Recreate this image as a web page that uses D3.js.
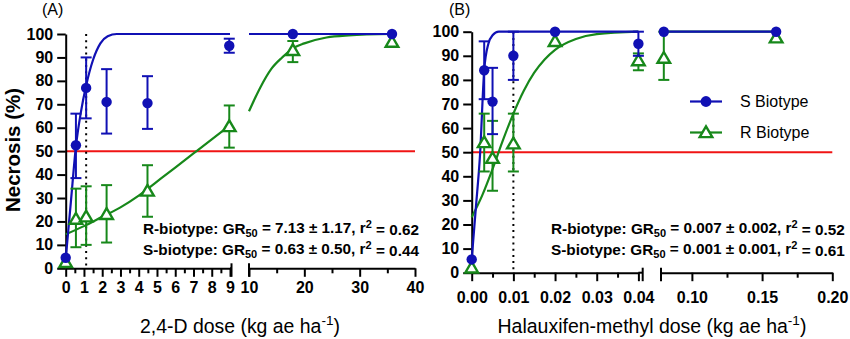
<!DOCTYPE html>
<html><head><meta charset="utf-8">
<script src="https://cdn.jsdelivr.net/npm/d3@7"></script>
<style>body{margin:0;background:#fff}svg{display:block;font-family:"Liberation Sans",Arial,sans-serif}</style>
</head><body><svg id="c" width="850" height="339"></svg>
<script>
// ---------- data ----------
const dosesA = [0, 0.56, 1.12, 2.24, 4.48, 8.96, 17.92, 35.84];
const sMeanA = [4.5, 52.5, 77, 71, 70.5, 95, 100, 100];
const sLoA   = [4.5, 38.5, 64, 57.5, 59.5, 92, 100, 100];
const sHiA   = [4.5, 66, 90, 85, 82, 98, 100, 100];
const rMeanA = [2.5, 21, 22, 23, 33, 60.5, 93, 96.5];
const rLoA   = [2.5, 9, 10, 11, 22, 51.5, 88, 96.5];
const rHiA   = [2.5, 34, 35, 35.5, 44, 69.5, 97, 96.5];

const dosesB = [0, 0.003, 0.005, 0.01, 0.02, 0.04, 0.08, 0.16];
const sMeanB = [5.5, 84, 71, 90, 100, 95, 100, 100];
const sLoB   = [5.5, 72, 57.5, 80, 100, 90, 100, 100];
const sHiB   = [5.5, 96, 85, 100, 100, 100, 100, 100];
const rMeanB = [2, 54, 47.5, 53.5, 96, 88, 89, 97.5];
const rLoB   = [2, 42, 34, 42, 96, 84, 80, 97.5];
const rHiB   = [2, 66, 63, 66, 96, 91, 100, 97.5];

// fitted curves (left / right axis segments)
const sCurveA1x = [0, 0.28, 0.56, 0.84, 1.12, 1.5, 1.9, 2.3, 2.8, 9];
const sCurveA1y = [4, 28, 52, 67, 78, 89, 96, 99, 100, 100];
const sCurveA2x = [10, 35.84];
const sCurveA2y = [100, 100];
const rCurveA1x = [0, 1, 2, 3, 4, 5, 6, 7, 8, 9];
const rCurveA1y = [14.5, 18, 22, 26, 31, 37, 43, 49, 55, 61];
const rCurveA2x = [10, 12, 14, 16, 18, 20, 24, 28, 35.84];
const rCurveA2y = [67, 77, 85, 90, 94, 96, 98.5, 99.4, 100];

const sCurveB1x = [0, 0.001, 0.002, 0.003, 0.004, 0.005, 0.0065, 0.04];
const sCurveB1y = [5.5, 27, 49, 84, 95, 98.5, 100, 100];
const sCurveB2x = [0.08, 0.16];
const sCurveB2y = [100, 100];
const rCurveB1x = [0, 0.0025, 0.005, 0.0075, 0.01, 0.0125, 0.015, 0.0175, 0.02, 0.025, 0.03, 0.04];
const rCurveB1y = [23, 32, 43, 55, 66, 75.5, 83, 88.5, 92.5, 97, 99, 100];
const rCurveB2x = [0.08, 0.16];
const rCurveB2y = [100, 100];

const yTicks = [0,10,20,30,40,50,60,70,80,90,100];
const xTicksA1 = [0,1,2,3,4,5,6,7,8,9];
const xMinorA1 = [0.5,1.5,2.5,3.5,4.5,5.5,6.5,7.5,8.5];
const xTicksA2 = [10,20,30,40];
const xMinorA2 = [15,25,35];
const xTicksB1 = [0,0.01,0.02,0.03,0.04];
const xMinorB1 = [0.005,0.015,0.025,0.035];
const xTicksB2 = [0.10,0.15,0.20];
const xMinorB2 = [0.125,0.175];

const gr50A = {R:["7.13","1.17","0.62"], S:["0.63","0.50","0.44"]};
const gr50B = {R:["0.007","0.002","0.52"], S:["0.001","0.001","0.61"]};
const refDoseA = 1.12, refDoseB = 0.01;
const legendLabels = ["S Biotype","R Biotype"];

// ---------- drawing ----------
const BLUE = "#1010b4", GREEN = "#17881a", RED = "#f01414";
const svg = d3.select("#c");
const zip = (xs, ys) => xs.map((x,i)=>[x, ys[i]]);
const triPath = "M0,-6.2 L6.3,4.6 L-6.3,4.6 Z";

function fitText(sel, target){
  const fs = parseFloat(sel.attr("font-size"));
  const len = sel.node().getComputedTextLength();
  sel.attr("font-size", (fs*target/len).toFixed(2));
}

function panel(o){
  const g = svg.append("g");
  const y = o.y;
  const X = v => v <= o.split ? o.x1(v) : o.x2(v);
  const y0 = y(0);

  g.append("line").attr("x1", o.x1(o.x1.domain()[0])).attr("x2", o.redEnd)
    .attr("y1", y(50)).attr("y2", y(50)).attr("stroke", RED).attr("stroke-width", 2);
  g.append("line").attr("x1", X(o.refDose)).attr("x2", X(o.refDose))
    .attr("y1", y(100)).attr("y2", y(0)).attr("stroke", "#000").attr("stroke-width", 2)
    .attr("stroke-dasharray", "2,4.2");

  const fontT = 'bold 16px "Liberation Sans", Arial, sans-serif';
  g.append("g").attr("transform", `translate(${o.x1(0)},0)`)
    .call(d3.axisLeft(y).tickValues(yTicks).tickSize(8.5).tickPadding(4).tickSizeOuter(0));
  function xAxis(scale, major, minor, fmt, pad){
    const a = g.append("g").attr("transform", `translate(0,${y0})`);
    a.call(d3.axisBottom(scale).tickValues(minor).tickSize(5).tickFormat("").tickSizeOuter(0));
    a.select(".domain").remove();
    const b = g.append("g").attr("transform", `translate(0,${y0})`);
    b.call(d3.axisBottom(scale).tickValues(major).tickSize(8.5).tickPadding(pad).tickFormat(fmt).tickSizeOuter(0));
  }
  xAxis(o.x1, o.ticks1, o.minor1, o.fmt1, o.pad);
  xAxis(o.x2, o.ticks2, o.minor2, o.fmt2, o.pad);
  g.append("line").attr("x1", o.x1.range()[1]).attr("x2", o.leftEnd).attr("y1", y0).attr("y2", y0)
    .attr("stroke", "#000").attr("stroke-width", 2);
  [o.leftEnd, o.x2.range()[0]].forEach(cx => {
    g.append("line").attr("x1", cx).attr("x2", cx).attr("y1", y0-5).attr("y2", y0+8.5)
      .attr("stroke", "#000").attr("stroke-width", 2);
  });
  g.selectAll(".domain, .tick line").attr("stroke", "#000").attr("stroke-width", 2);
  g.selectAll(".tick text").attr("fill", "#000").style("font", fontT);

  const line = d3.line().x(d => X(d[0])).y(d => y(d[1])).curve(d3.curveMonotoneX);
  [[o.rc1, GREEN],[o.rc2, GREEN],[o.sc1, BLUE],[o.sc2, BLUE]].forEach(([pts,c]) => {
    g.append("path").attr("d", line(pts)).attr("fill","none").attr("stroke", c).attr("stroke-width", 2.2);
  });

  function series(doses, mean, lo, hi, color, shape){
    const eg = g.append("g").attr("stroke", color).attr("stroke-width", 2).attr("fill","none");
    doses.forEach((d,i) => {
      if (hi[i] - lo[i] < 0.5) return;
      const cx = X(d);
      eg.append("line").attr("x1",cx).attr("x2",cx).attr("y1",y(lo[i])).attr("y2",y(hi[i]));
      [lo[i], hi[i]].forEach(v => eg.append("line").attr("x1",cx-5.5).attr("x2",cx+5.5).attr("y1",y(v)).attr("y2",y(v)));
    });
    doses.forEach((d,i) => {
      if (shape === "circle") {
        g.append("circle").attr("cx", X(d)).attr("cy", y(mean[i])).attr("r", 5.2).attr("fill", color);
      } else {
        g.append("path").attr("d", triPath).attr("transform", `translate(${X(d)},${y(mean[i])})`)
          .attr("fill","#fff").attr("stroke", color).attr("stroke-width", 2.4);
      }
    });
  }
  series(o.doses, o.rMean, o.rLo, o.rHi, GREEN, "tri");
  series(o.doses, o.sMean, o.sLo, o.sHi, BLUE, "circle");

  const ann = (lab, v, yy) => {
    const t = g.append("text").attr("x", o.annX).attr("y", yy).attr("font-size", 12.5)
      .attr("font-weight", "bold").attr("fill", "#000");
    t.append("tspan").text(lab + "-biotype: GR");
    t.append("tspan").attr("font-size", "0.72em").attr("dy", "0.3em").text("50");
    t.append("tspan").attr("dy", "-0.3em").text(` = ${v[0]} \u00b1 ${v[1]}, r`);
    t.append("tspan").attr("font-size", "0.72em").attr("dy", "-0.45em").text("2");
    t.append("tspan").attr("dy", "0.45em").text(` = ${v[2]}`);
    fitText(t, o.annW);
  };
  ann("R", o.gr.R, 234);
  ann("S", o.gr.S, 255);

  const tt = g.append("text").attr("x", o.titleX).attr("y", 333).attr("text-anchor", "middle")
    .attr("font-size", 17).attr("fill", "#000");
  tt.append("tspan").text(o.title + " (kg ae ha");
  tt.append("tspan").attr("font-size", "0.7em").attr("dy", "-0.6em").text("-1");
  tt.append("tspan").attr("dy", "0.42em").text(")");
  fitText(tt, o.titleW);

  g.append("text").attr("x", o.letterX).attr("y", 15).attr("font-size", 16).attr("fill","#000").text(o.letter);
}

panel({
  y: d3.scaleLinear([0,100],[268.3,34]),
  x1: d3.scaleLinear([0,9],[65.7,230]), x2: d3.scaleLinear([10,40],[249,415]), split: 9.5,
  leftEnd: 231.5, redEnd: 415, refDose: refDoseA,
  ticks1: xTicksA1, minor1: xMinorA1, ticks2: xTicksA2, minor2: xMinorA2,
  fmt1: d3.format("d"), fmt2: d3.format("d"), pad: 4.5,
  doses: dosesA, sMean: sMeanA, sLo: sLoA, sHi: sHiA, rMean: rMeanA, rLo: rLoA, rHi: rHiA,
  sc1: zip(sCurveA1x, sCurveA1y), sc2: zip(sCurveA2x, sCurveA2y),
  rc1: zip(rCurveA1x, rCurveA1y), rc2: zip(rCurveA2x, rCurveA2y),
  gr: gr50A, annX: 143, annW: 276,
  title: "2,4-D dose", titleX: 240, titleW: 200, letter: "(A)", letterX: 42
});
panel({
  y: d3.scaleLinear([0,100],[272.7,31.7]),
  x1: d3.scaleLinear([0,0.04],[471.7,638.4]), x2: d3.scaleLinear([0.078,0.2],[661,832.3]), split: 0.06,
  leftEnd: 642.7, redEnd: 832.3, refDose: refDoseB,
  ticks1: xTicksB1, minor1: xMinorB1, ticks2: xTicksB2, minor2: xMinorB2,
  fmt1: d3.format(".2f"), fmt2: d3.format(".2f"), pad: 10,
  doses: dosesB, sMean: sMeanB, sLo: sLoB, sHi: sHiB, rMean: rMeanB, rLo: rLoB, rHi: rHiB,
  sc1: zip(sCurveB1x, sCurveB1y), sc2: zip(sCurveB2x, sCurveB2y),
  rc1: zip(rCurveB1x, rCurveB1y), rc2: zip(rCurveB2x, rCurveB2y),
  gr: gr50B, annX: 551, annW: 294,
  title: "Halauxifen-methyl dose", titleX: 652, titleW: 309, letter: "(B)", letterX: 449
});

const yt = svg.append("text").attr("transform", "translate(19.5,150) rotate(-90)").attr("text-anchor","middle")
  .attr("font-size", 19).attr("font-weight","bold").attr("fill","#000").text("Necrosis (%)");
fitText(yt, 124);

const lg = svg.append("g");
legendLabels.forEach((lab, i) => {
  const c = i === 0 ? BLUE : GREEN, ly = i === 0 ? 101.5 : 132.5;
  lg.append("line").attr("x1", 690).attr("x2", 722).attr("y1", ly).attr("y2", ly).attr("stroke", c).attr("stroke-width", 2.2);
  if (i === 0) lg.append("circle").attr("cx", 706).attr("cy", ly).attr("r", 5.4).attr("fill", c);
  else lg.append("path").attr("d", triPath).attr("transform", `translate(706,${ly})`).attr("fill","#fff").attr("stroke", c).attr("stroke-width", 2.4);
  lg.append("text").attr("x", 740).attr("y", ly + 5.8).attr("font-size", 16).attr("fill", "#000").text(lab);
});
</script></body></html>
